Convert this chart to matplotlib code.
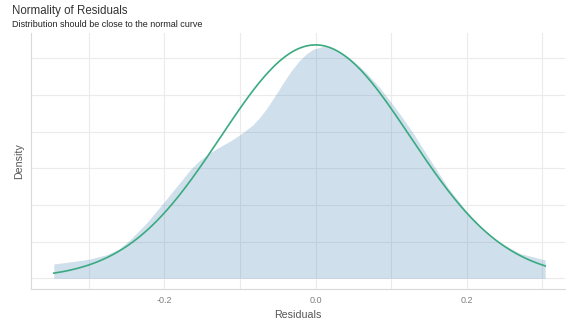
import numpy as np
import matplotlib.pyplot as plt

# residual density
resid_x = [-0.3464, -0.320, -0.300, -0.277, -0.260, -0.246, -0.224, -0.200, -0.180,
           -0.165, -0.153, -0.140, -0.127, -0.113, -0.0995, -0.083, -0.074, -0.065,
           -0.054, -0.043, -0.032, -0.021, -0.012, -0.0034, 0.0098, 0.020,
           0.032, 0.045, 0.058, 0.070, 0.085, 0.100, 0.115, 0.129, 0.142, 0.155,
           0.175, 0.200, 0.220, 0.239, 0.270, 0.304]
resid_density = [0.195, 0.23, 0.26, 0.32, 0.40, 0.52, 0.75, 1.045, 1.30,
                 1.49, 1.61, 1.71, 1.79, 1.87, 1.96, 2.09, 2.19, 2.31,
                 2.48, 2.66, 2.83, 2.97, 3.06, 3.12, 3.16, 3.15,
                 3.09, 3.00, 2.89, 2.77, 2.60, 2.40, 2.19, 1.98, 1.77, 1.56,
                 1.24, 0.91, 0.69, 0.52, 0.34, 0.25]

# normal reference curve
resid_mean = 0.0
resid_sd = 0.1254

x_ticks = [-0.2, 0.0, 0.2]
x_minor = [-0.3, -0.1, 0.1, 0.3]
y_grid = [0, 0.5, 1.0, 1.5, 2.0, 2.5, 3.0]

plt.rcParams['font.family'] = ['Liberation Sans', 'DejaVu Sans']

fig = plt.figure(figsize=(5.66, 3.26), dpi=100)
ax = fig.add_axes([0.0542, 0.1135, 0.9438, 0.7845])

xs = np.linspace(min(resid_x), max(resid_x), 300)
normal = np.exp(-0.5 * ((xs - resid_mean) / resid_sd) ** 2) / (resid_sd * np.sqrt(2 * np.pi))

ax.fill_between(resid_x, resid_density, 0, color='#4682b4', alpha=0.25, lw=0, zorder=2)
ax.plot(xs, normal, color='#3aaa80', lw=1.2, zorder=3)

ax.set_xlim(-0.377, 0.33)
ax.set_ylim(-0.146, 3.34)
ax.set_xticks(x_ticks)
ax.set_xticklabels(['-0.2', '0.0', '0.2'])
ax.set_xticks(x_minor, minor=True)
ax.set_yticks(y_grid)
ax.set_yticklabels([])
ax.tick_params(which='both', length=0, labelsize=6.5, labelcolor='#7f7f7f', pad=5)
ax.grid(True, which='both', color='#ebebeb', lw=0.8, zorder=0)
ax.set_axisbelow(True)

for s in ['top', 'right']:
    ax.spines[s].set_visible(False)
for s in ['left', 'bottom']:
    ax.spines[s].set_color('#d9d9d9')
    ax.spines[s].set_linewidth(0.8)

ax.set_xlabel('Residuals', fontsize=7.7, color='#555555', labelpad=4)
ax.set_ylabel('Density', fontsize=7.7, color='#555555', labelpad=0)

fig.text(11.7 / 566, 1 - 14 / 326, 'Normality of Residuals', fontsize=8.3,
         color='#333333', va='baseline', ha='left')
fig.text(11.7 / 566, 1 - 26.7 / 326, 'Distribution should be close to the normal curve',
         fontsize=6.5, color='#222222', va='baseline', ha='left')

fig.savefig('out.png', dpi=100)
